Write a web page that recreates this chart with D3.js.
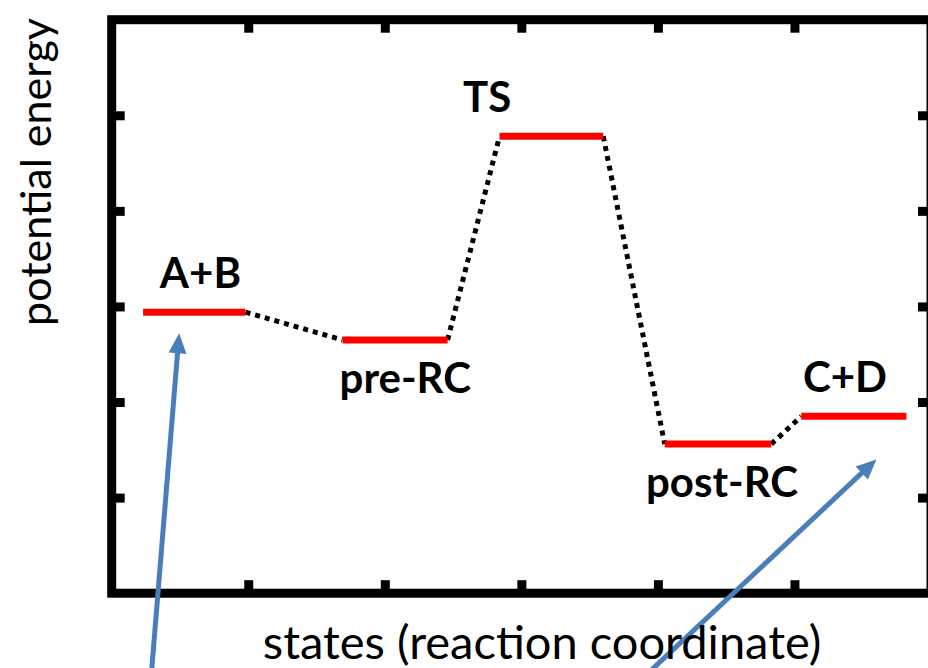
<!DOCTYPE html>
<html>
<head>
<meta charset="utf-8">
<script src="https://cdn.jsdelivr.net/npm/d3@7"></script>
<style>
  body { margin: 0; background: #fff; }
  svg { display: block; }
  .level-label { font-family: Lato, "Open Sans", sans-serif; font-weight: 700; font-size: 42px; fill: #000; }
  .axis-title { font-family: Lato, "Open Sans", sans-serif; fill: #000; }
</style>
</head>
<body>
<svg id="chart" width="928" height="668"></svg>
<script>
// states along the reaction path
const states = ["A+B", "pre-RC", "TS", "post-RC", "C+D"];
// energy of each state (axis units, 0 = bottom of frame)
const energies = [2.94, 2.65, 4.78, 1.56, 1.85];
// where each level starts / ends along the reaction coordinate
const levelStart = [0.23, 1.69, 2.84, 4.05, 5.05];
const levelEnd = [0.98, 2.46, 3.60, 4.83, 5.82];
// label centre along x, and which side of its level it sits on
const labelAt = [0.65, 2.15, 2.75, 4.47, 5.37];
const labelSide = ["above", "below", "above", "below", "above"];
// tick marks only, no tick text
const xTicks = [1, 2, 3, 4, 5];
const yTicks = [1, 2, 3, 4, 5];
// blue call-out arrows, axis units
const arrowFrom = [[0.293, -0.8], [3.955, -0.8]];
const arrowTo = [[0.494, 2.72], [5.60, 1.40]];

const WIDTH = 928;
const HEIGHT = 668;
const FRAME = { left: 111.7, right: 931, top: 19.7, bottom: 593.2 };
const BORDER = 9;
const TICK_LEN = 13;
const BLUE = "#4a7ebb";

const svg = d3.select("#chart");

const x = d3.scaleLinear().domain([0, 6]).range([FRAME.left, FRAME.right]);
const y = d3.scaleLinear().domain([0, 6]).range([FRAME.bottom, FRAME.top]);

//frame
svg.append("rect")
  .attr("x", x(0))
  .attr("y", y(6))
  .attr("width", x(6) - x(0))
  .attr("height", y(0) - y(6))
  .attr("fill", "none")
  .attr("stroke", "#000")
  .attr("stroke-width", BORDER);

//inward ticks on all four sides
function drawAxis(axis, tx, ty) {
  const g = svg.append("g")
    .attr("transform", `translate(${tx},${ty})`)
    .call(axis.tickSize(-TICK_LEN).tickFormat(""));
  g.select(".domain").remove();
  g.selectAll(".tick line")
    .attr("stroke", "#000")
    .attr("stroke-width", BORDER);
}
drawAxis(d3.axisBottom(x).tickValues(xTicks), 0, y(0));
drawAxis(d3.axisTop(x).tickValues(xTicks), 0, y(6));
drawAxis(d3.axisLeft(y).tickValues(yTicks), x(0), 0);
drawAxis(d3.axisRight(y).tickValues(yTicks), x(6), 0);

const levels = states.map((s, i) => ({
  name: s,
  e: energies[i],
  x0: levelStart[i],
  x1: levelEnd[i],
  lx: labelAt[i],
  side: labelSide[i],
}));

//dotted connectors between neighbouring levels
const links = d3.pairs(levels);
svg.selectAll("line.link")
  .data(links)
  .join("line")
  .attr("class", "link")
  .attr("x1", (d) => x(d[0].x1))
  .attr("y1", (d) => y(d[0].e))
  .attr("x2", (d) => x(d[1].x0))
  .attr("y2", (d) => y(d[1].e))
  .attr("stroke", "#000")
  .attr("stroke-width", 5)
  .attr("stroke-dasharray", "5,5");

//energy levels
svg.selectAll("line.level")
  .data(levels)
  .join("line")
  .attr("class", "level")
  .attr("x1", (d) => x(d.x0))
  .attr("x2", (d) => x(d.x1))
  .attr("y1", (d) => y(d.e))
  .attr("y2", (d) => y(d.e))
  .attr("stroke", "#ff0000")
  .attr("stroke-width", 7);

svg.selectAll("text.level-label")
  .data(levels)
  .join("text")
  .attr("class", "level-label")
  .attr("text-anchor", "middle")
  .attr("x", (d) => x(d.lx))
  .attr("y", (d) => y(d.e) + (d.side === "above" ? -24 : 53))
  .text((d) => d.name);

//call-out arrows
const arrows = arrowFrom.map((f, i) => ({ from: f, to: arrowTo[i] }));
const HEAD_LEN = 20;
const HEAD_HALF = 9;
arrows.forEach((a) => {
  const x1 = x(a.from[0]), y1 = y(a.from[1]);
  const x2 = x(a.to[0]), y2 = y(a.to[1]);
  const len = Math.hypot(x2 - x1, y2 - y1);
  const ux = (x2 - x1) / len, uy = (y2 - y1) / len;
  const bx = x2 - ux * HEAD_LEN, by = y2 - uy * HEAD_LEN;
  svg.append("line")
    .attr("x1", x1).attr("y1", y1)
    .attr("x2", bx + ux * 2).attr("y2", by + uy * 2)
    .attr("stroke", BLUE)
    .attr("stroke-width", 5);
  svg.append("path")
    .attr("d", `M${x2},${y2}L${bx - uy * HEAD_HALF},${by + ux * HEAD_HALF}L${bx + uy * HEAD_HALF},${by - ux * HEAD_HALF}Z`)
    .attr("fill", BLUE);
});

//axis titles
svg.append("text")
  .attr("class", "axis-title")
  .attr("text-anchor", "middle")
  .style("font-size", "47px")
  .attr("x", 542)
  .attr("y", 659)
  .text("states (reaction coordinate)");

svg.append("text")
  .attr("class", "axis-title")
  .attr("text-anchor", "middle")
  .style("font-size", "43px")
  .attr("transform", "translate(51,172) rotate(-90)")
  .text("potential energy");
</script>
</body>
</html>
